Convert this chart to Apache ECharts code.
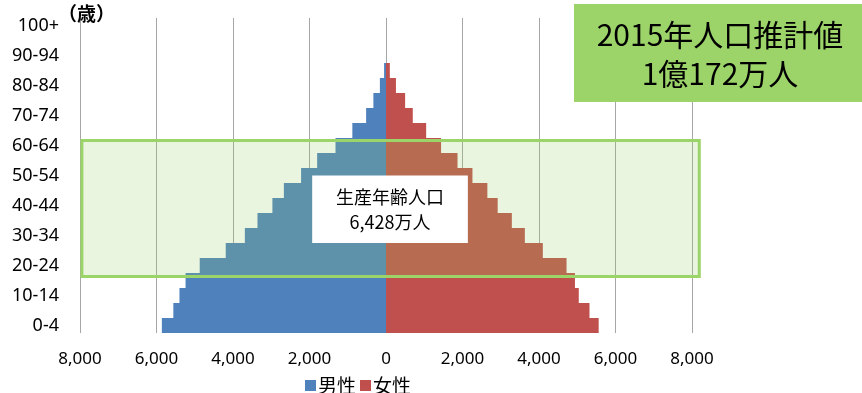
<!DOCTYPE html>
<html>
<head>
<meta charset="utf-8">
<script src="https://cdn.jsdelivr.net/npm/echarts@6/dist/echarts.min.js"></script>
<style>
  html, body { margin: 0; padding: 0; background: #fff; }
  #chart { width: 862px; height: 393px; }
</style>
</head>
<body>
<div id="chart"></div>
<script>
// 年齢階級 (5歳刻み)
var ageGroups = ['0-4', '5-9', '10-14', '15-19', '20-24', '25-29', '30-34', '35-39',
  '40-44', '45-49', '50-54', '55-59', '60-64', '65-69', '70-74', '75-79',
  '80-84', '85-89', '90-94', '95-99', '100+'];
// 千人
var male = [5860, 5560, 5400, 5240, 4870, 4190, 3690, 3360, 2970, 2670,
  2220, 1800, 1320, 880, 520, 330, 160, 50, 0, 0, 0];
var female = [5560, 5320, 5040, 4940, 4720, 4100, 3630, 3290, 2920, 2650,
  2260, 1870, 1440, 1050, 700, 500, 260, 100, 0, 0, 0];
var xTicks = [-8000, -6000, -4000, -2000, 0, 2000, 4000, 6000, 8000];

var titleLines = ['2015年人口推計値', '1億172万人'];
var boxLines = ['生産年齢人口', '6,428万人'];

var myChart = echarts.init(document.getElementById('chart'));

var option = {
  animation: false,
  grid: {
    left: 80,
    right: 170,
    top: 18,
    bottom: 60
  },
  legend: {
    data: ['男性', '女性'],
    left: 300,
    top: 371,
    itemWidth: 11,
    itemHeight: 11,
    itemGap: 4,
    icon: 'rect',
    textStyle: {
      fontSize: 19,
      fontFamily: 'Noto Sans CJK JP',
      color: '#000',
      padding: [0, 0, 0, -3]
    }
  },
  xAxis: {
    type: 'value',
    min: xTicks[0],
    max: xTicks[xTicks.length - 1],
    interval: 2000,
    axisLine: { show: false },
    axisTick: { show: false },
    axisLabel: {
      margin: 18,
      fontSize: 17,
      fontFamily: 'Noto Sans',
      color: '#000',
      formatter: function (v) {
        return Math.abs(v).toLocaleString('en-US');
      }
    },
    splitLine: {
      show: true,
      lineStyle: { color: '#a6a6a6', width: 1 }
    }
  },
  yAxis: {
    type: 'category',
    data: ageGroups,
    axisLine: { show: false },
    axisTick: { show: false },
    axisLabel: {
      interval: 1,
      margin: 21,
      fontSize: 18,
      fontFamily: 'Noto Sans',
      color: '#000'
    },
    splitLine: { show: false }
  },
  series: [{
    name: '男性',
    type: 'bar',
    data: male.map(function (v) { return -v; }),
    barCategoryGap: 0,
    barGap: '-100%',
    itemStyle: { color: '#4f81bd' }
  }, {
    name: '女性',
    type: 'bar',
    data: female,
    barCategoryGap: 0,
    barGap: '-100%',
    itemStyle: { color: '#c0504d' }
  }]
};

myChart.setOption(option);

// 注記の位置はデータ座標から求める
function px(x, cat) {
  return myChart.convertToPixel({ gridIndex: 0 }, [x, cat]);
}
var band = px(0, 0)[1] - px(0, 1)[1];
function rowTop(i) { return px(0, i)[1] - band / 2; }
function rowBottom(i) { return px(0, i)[1] + band / 2; }

var gx0 = px(-7950, 0)[0], gx1 = px(8190, 0)[0];
var gy0 = rowTop(12) + 2.5, gy1 = rowTop(3) + 3.5;

var wx0 = px(-1930, 0)[0], wx1 = px(2140, 0)[0];
var wy0 = px(0, 10)[1], wy1 = rowBottom(6);

myChart.setOption({
  graphic: [{
    type: 'rect',
    z: 100,
    shape: { x: gx0, y: gy0, width: gx1 - gx0, height: gy1 - gy0 },
    style: {
      fill: 'rgba(150,206,100,0.21)',
      stroke: '#9bd468',
      lineWidth: 3
    }
  }, {
    type: 'rect',
    z: 110,
    shape: { x: wx0, y: wy0, width: wx1 - wx0, height: wy1 - wy0 },
    style: { fill: '#ffffff' }
  }, {
    type: 'text',
    z: 111,
    x: (wx0 + wx1) / 2,
    y: (wy0 + wy1) / 2,
    style: {
      text: boxLines.join('\n'),
      fontSize: 18,
      lineHeight: 25,
      fontFamily: 'Noto Sans CJK JP',
      fill: '#000',
      align: 'center',
      verticalAlign: 'middle'
    }
  }, {
    type: 'rect',
    z: 110,
    shape: { x: 574, y: 4, width: 300, height: 98 },
    style: { fill: '#9dd46a' }
  }, {
    type: 'text',
    z: 111,
    x: 720,
    y: 54,
    style: {
      text: titleLines.join('\n'),
      fontSize: 30,
      lineHeight: 39,
      fontFamily: 'Noto Sans CJK JP',
      fill: '#000',
      align: 'center',
      verticalAlign: 'middle'
    }
  }, {
    type: 'text',
    z: 111,
    x: 58,
    y: 4,
    style: {
      text: '（歳）',
      fontSize: 19,
      fontWeight: 'bold',
      fontFamily: 'Noto Sans CJK JP',
      fill: '#000'
    }
  }]
});
</script>
</body>
</html>
